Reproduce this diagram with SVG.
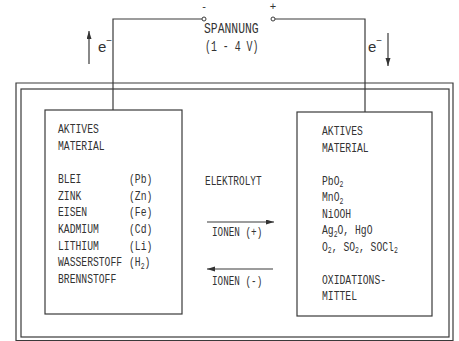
<svg xmlns="http://www.w3.org/2000/svg" width="459" height="341" viewBox="0 0 459 341">
<style>
.bg{fill:#fff}
.ln{fill:none;stroke:#3a3a3a;stroke-width:1.2}
.box{fill:#fff;stroke:#3a3a3a;stroke-width:1.2}
.t{font-family:"Liberation Mono","DejaVu Sans Mono",monospace;font-size:13.5px;fill:#333}
.s{font-size:9px}
.e{font-family:"Liberation Sans",Arial,sans-serif;font-size:15px;fill:#333}
.pm{font-family:"Liberation Sans",Arial,sans-serif;font-size:11px;fill:#333;text-anchor:middle}
.term{fill:#fff;stroke:#3a3a3a;stroke-width:1}
</style>
<defs>
<marker id="ah" markerUnits="userSpaceOnUse" markerWidth="9" markerHeight="6" refX="8" refY="2.5" orient="auto">
<path d="M0,0 L8,2.5 L0,5 z" fill="#333"/>
</marker>
</defs>
<rect class="bg" x="0" y="0" width="459" height="341"/>

<g id="cell-housing">
<path class="ln" d="M16,345 V83 H453 V345"/>
<path class="ln" d="M16,340.5 H453"/>
<rect class="ln" x="21" y="89" width="428" height="248"/>
</g>

<g id="connectors">
<path class="ln" d="M113,110 V19 H202"/>
<path class="ln" d="M275,19 H365 V112"/>
<path class="ln" d="M89,64 V31" marker-end="url(#ah)"/>
<path class="ln" d="M388,33 V66" marker-end="url(#ah)"/>
<path class="ln" d="M207,222 H274" marker-end="url(#ah)"/>
<path class="ln" d="M273,269 H207" marker-end="url(#ah)"/>
</g>

<g id="voltage-source">
<circle class="term" cx="204" cy="19" r="2"/>
<circle class="term" cx="273" cy="19" r="2"/>
<text class="pm" x="204" y="10">-</text>
<text class="pm" x="273" y="10">+</text>
<text class="t" transform="translate(204,33) scale(0.76,1)" style="font-size:15px">SPANNUNG</text>
<text class="t" transform="translate(205,51) scale(0.66,1)" style="font-size:15px">(1 - 4 V)</text>
</g>

<g id="electron-left">
<text class="e" x="98" y="52">e<tspan dy="-8" style="font-size:10px">−</tspan></text>
</g>
<g id="electron-right">
<text class="e" x="368" y="52">e<tspan dy="-8" style="font-size:10px">−</tspan></text>
</g>

<g id="anode">
<rect class="box" x="45" y="110" width="137" height="204"/>
<text class="t" transform="translate(58,133) scale(0.72,1)">AKTIVES</text>
<text class="t" transform="translate(58,150) scale(0.72,1)">MATERIAL</text>
<text class="t" transform="translate(58,183) scale(0.72,1)">BLEI</text>
<text class="t" transform="translate(58,200) scale(0.72,1)">ZINK</text>
<text class="t" transform="translate(58,216) scale(0.72,1)">EISEN</text>
<text class="t" transform="translate(58,233) scale(0.72,1)">KADMIUM</text>
<text class="t" transform="translate(58,250) scale(0.72,1)">LITHIUM</text>
<text class="t" transform="translate(58,266) scale(0.72,1)">WASSERSTOFF</text>
<text class="t" transform="translate(58,283) scale(0.72,1)">BRENNSTOFF</text>
<text class="t" transform="translate(129,183) scale(0.72,1)">(Pb)</text>
<text class="t" transform="translate(129,200) scale(0.72,1)">(Zn)</text>
<text class="t" transform="translate(129,216) scale(0.72,1)">(Fe)</text>
<text class="t" transform="translate(129,233) scale(0.72,1)">(Cd)</text>
<text class="t" transform="translate(129,250) scale(0.72,1)">(Li)</text>
<text class="t" transform="translate(129,266) scale(0.72,1)">(H<tspan class="s" dy="2.5">2</tspan><tspan dy="-2.5">)</tspan></text>
</g>

<g id="electrolyte">
<text class="t" transform="translate(205,185) scale(0.7,1)">ELEKTROLYT</text>
<text class="t" transform="translate(212,236) scale(0.69,1)">IONEN (+)</text>
<text class="t" transform="translate(212,285) scale(0.69,1)">IONEN (-)</text>
</g>

<g id="cathode">
<rect class="box" x="297" y="112" width="135" height="204"/>
<text class="t" transform="translate(322,135) scale(0.72,1)">AKTIVES</text>
<text class="t" transform="translate(322,151.5) scale(0.72,1)">MATERIAL</text>
<text class="t" transform="translate(322,184.5) scale(0.72,1)">PbO<tspan class="s" dy="2.5">2</tspan></text>
<text class="t" transform="translate(322,201) scale(0.72,1)">MnO<tspan class="s" dy="2.5">2</tspan></text>
<text class="t" transform="translate(322,217.5) scale(0.72,1)">NiOOH</text>
<text class="t" transform="translate(322,234) scale(0.72,1)">Ag<tspan class="s" dy="2.5">2</tspan><tspan dy="-2.5">O, HgO</tspan></text>
<text class="t" transform="translate(322,250.5) scale(0.72,1)">O<tspan class="s" dy="2.5">2</tspan><tspan dy="-2.5">, SO</tspan><tspan class="s" dy="2.5">2</tspan><tspan dy="-2.5">, SOCl</tspan><tspan class="s" dy="2.5">2</tspan></text>
<text class="t" transform="translate(322,283.5) scale(0.72,1)">OXIDATIONS-</text>
<text class="t" transform="translate(322,300) scale(0.72,1)">MITTEL</text>
</g>
</svg>
